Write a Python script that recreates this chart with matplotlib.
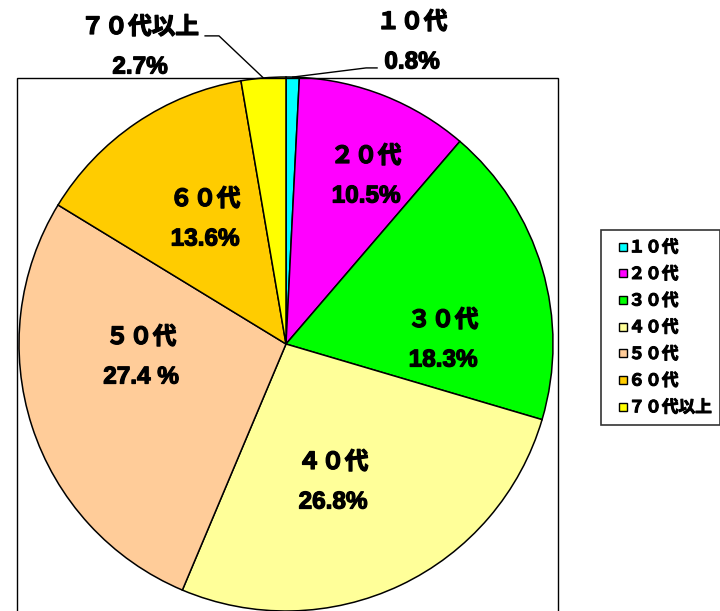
import numpy as np
import matplotlib
matplotlib.use("Agg")
import matplotlib.pyplot as plt
import matplotlib.patheffects as pe
from matplotlib.patches import Rectangle
from matplotlib.lines import Line2D

# ---- data ----
categories = ["１０代", "２０代", "３０代", "４０代", "５０代", "６０代", "７０代以上"]
shares = [0.8, 10.5, 18.3, 26.8, 27.4, 13.6, 2.7]
pct_labels = ["0.8%", "10.5%", "18.3%", "26.8%", "27.4 %", "13.6%", "2.7%"]
colors = ["#00FFFF", "#FF00FF", "#00FF00", "#FFFF99", "#FFCC99", "#FFCC00", "#FFFF00"]

# label centres in pixels of the 720x611 canvas (name above, percent below)
label_px = [(412, 42), (366, 176), (443, 340), (333, 482), (141, 357), (205, 219), (140, 47)]

W, H = 720, 611
CX, CY, R = 286, 344, 267

JP = ["Noto Sans CJK JP", "DejaVu Sans"]
NUM = ["Liberation Sans", "DejaVu Sans"]
heavy = [pe.withStroke(linewidth=0.9, foreground="black")]

fig = plt.figure(figsize=(W / 100, H / 100), dpi=100)

# plot-area frame (runs off the bottom of the canvas)
fig.patches.append(Rectangle((17 / W, -0.01), (558 - 17) / W, (H - 78) / H + 0.01,
                             transform=fig.transFigure, fill=False,
                             edgecolor="black", linewidth=1.0))

ax = fig.add_axes([(CX - R) / W, (H - CY - R) / H, 2 * R / W, 2 * R / H])

wedges, _ = ax.pie(shares, colors=colors, startangle=90, counterclock=False,
                   radius=1.0, wedgeprops=dict(edgecolor="black", linewidth=1.1))
for w in wedges:
    w.set_clip_on(False)
ax.set_xlim(-1, 1)
ax.set_ylim(-1, 1)
ax.set_aspect("equal")
ax.axis("off")


def px2data(px, py):
    return (px - CX) / R, (CY - py) / R


off = 20 / R
for i, (name, pct) in enumerate(zip(categories, pct_labels)):
    x, y = px2data(*label_px[i])
    ax.text(x, y + off, name, ha="center", va="center", fontsize=17,
            fontweight="bold", family=JP, path_effects=heavy)
    ax.text(x, y - off, pct, ha="center", va="center", fontsize=17.5,
            fontweight="bold", family=NUM, path_effects=heavy)

# leader lines for the two small slices
cum = np.cumsum([0] + shares[:-1])
tot = sum(shares)


def edge_point(i):
    mid = (cum[i] + shares[i] / 2) / tot * 360.0
    a = np.deg2rad(90 - mid)
    return np.cos(a), np.sin(a)


ex, ey = edge_point(0)
ax.plot([ex, 0.300, 0.341], [ey, 1.034, 1.034], color="black", lw=1.0, clip_on=False)
ex, ey = edge_point(6)
ax.plot([ex, -0.251, -0.303], [ey, 1.154, 1.154], color="black", lw=1.0, clip_on=False)

handles = [Line2D([], [], linestyle="none", marker="s", markersize=6,
                  markerfacecolor=c, markeredgecolor="black", markeredgewidth=1.0)
           for c in colors]
leg = fig.legend(handles, categories, loc="upper left",
                 bbox_to_anchor=(601 / W, 1 - 230 / H), frameon=True,
                 fancybox=False, edgecolor="black", borderaxespad=0,
                 handlelength=1.6, handletextpad=-0.45,
                 labelspacing=0.52, borderpad=0.5,
                 prop=dict(family=JP, weight="bold", size=12))
leg.get_frame().set_linewidth(1.2)
for t in leg.get_texts():
    t.set_path_effects([pe.withStroke(linewidth=0.7, foreground="black")])

fig.savefig("out.png", dpi=100)
